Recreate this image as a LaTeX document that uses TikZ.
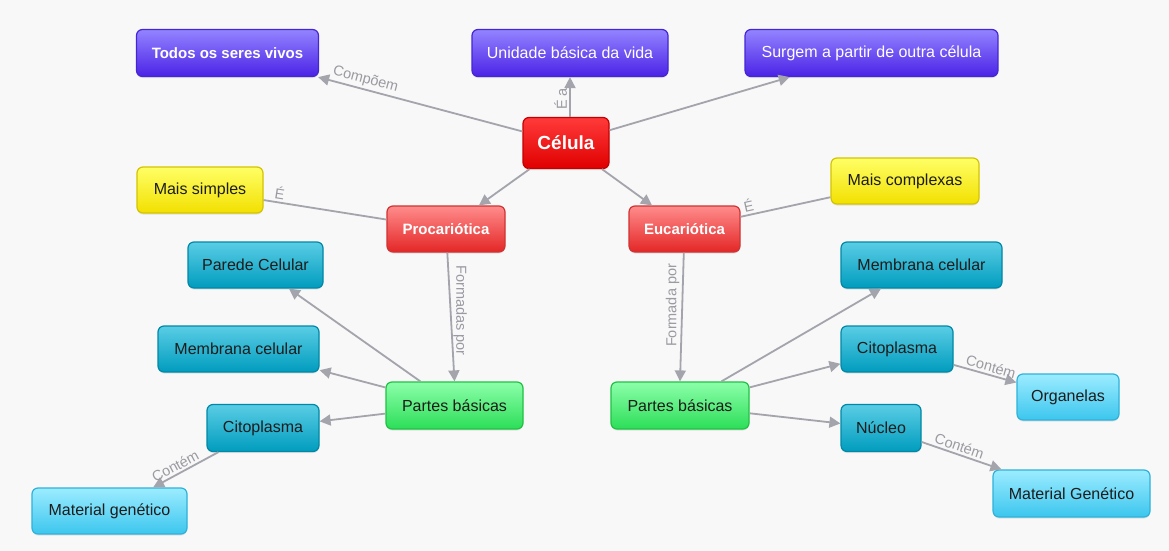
\documentclass[tikz,border=0pt]{standalone}
\usepackage{fontspec}
\setmainfont{Liberation Sans}
\usepackage{xcolor}
\usetikzlibrary{arrows.meta,shadows}

\definecolor{fundo}{HTML}{F8F8F8}
\definecolor{roxoC}{HTML}{9384FF}
\definecolor{roxoE}{HTML}{4B22E6}
\definecolor{roxoB}{HTML}{4526D2}
\definecolor{vermC}{HTML}{FF3A3A}
\definecolor{vermE}{HTML}{E00000}
\definecolor{vermB}{HTML}{C40000}
\definecolor{rosaC}{HTML}{FF8C8C}
\definecolor{rosaE}{HTML}{E42626}
\definecolor{amarC}{HTML}{FFFF66}
\definecolor{amarE}{HTML}{F2E000}
\definecolor{amarB}{HTML}{D4C400}
\definecolor{verdeC}{HTML}{8CFFAA}
\definecolor{verdeE}{HTML}{2CDE58}
\definecolor{verdeB}{HTML}{20C244}
\definecolor{azulC}{HTML}{5ACDE5}
\definecolor{azulE}{HTML}{009CBE}
\definecolor{azulB}{HTML}{0088A6}
\definecolor{cianoC}{HTML}{9CECFF}
\definecolor{cianoE}{HTML}{3CC6EE}
\definecolor{cianoB}{HTML}{2EB2DA}
\definecolor{linha}{HTML}{A3A4AC}
\definecolor{rotuloC}{HTML}{9A9AA2}
\definecolor{texto}{HTML}{1C1C1C}

\begin{document}
\begin{tikzpicture}[x=1pt,y=-1pt,
		conceito/.style={rounded corners=6pt, minimum height=47pt, inner xsep=0pt,
			line width=1.2pt, align=center, text=texto,
			font=\fontsize{16}{18}\selectfont,
			drop shadow={opacity=0.18, shadow xshift=0pt, shadow yshift=-1.5pt}},
		roxo/.style={conceito, top color=roxoC, bottom color=roxoE, draw=roxoB, text=white},
		vermelho/.style={conceito, top color=vermC, bottom color=vermE, draw=vermB, text=white,
			font=\fontsize{19}{21}\selectfont\bfseries},
		rosa/.style={conceito, top color=rosaC, bottom color=rosaE, draw=vermB!80, text=white,
			font=\fontsize{15}{17}\selectfont\bfseries},
		amarelo/.style={conceito, top color=amarC, bottom color=amarE, draw=amarB},
		verde/.style={conceito, top color=verdeC, bottom color=verdeE, draw=verdeB},
		azul/.style={conceito, top color=azulC, bottom color=azulE, draw=azulB},
		ciano/.style={conceito, top color=cianoC, bottom color=cianoE, draw=cianoB},
		liga/.style={draw=linha, line width=1.8pt, -{Triangle[length=11pt,width=11pt]}},
		traco/.style={draw=linha, line width=1.8pt},
		rot/.style={text=rotuloC, font=\fontsize{14.5}{16}\selectfont, inner sep=2pt}
	]
	\useasboundingbox[fill=fundo] (0,0) rectangle (1169,551);

	% conceito central
	\node[vermelho, minimum width=86pt, minimum height=51pt] (celula) at (566,143) {Célula};

	% linha de cima
	\node[roxo, minimum width=182pt, font=\fontsize{15}{17}\selectfont\bfseries] (todos) at (227.5,53) {Todos os seres vivos};
	\node[roxo, minimum width=196pt] (unidade) at (570,53) {Unidade básica da vida};
	\node[roxo, minimum width=253pt] (surgem) at (871.5,53) {Surgem a partir de outra célula};

	% tipos de celula
	\node[rosa, minimum width=118pt, minimum height=46pt] (proc) at (446,229) {Procariótica};
	\node[rosa, minimum width=111pt, minimum height=46pt] (euc) at (684.5,229) {Eucariótica};
	\node[amarelo, minimum width=126pt, minimum height=46pt] (simples) at (200,190) {Mais simples};
	\node[amarelo, minimum width=148pt, minimum height=46pt] (complexas) at (905,181) {Mais complexas};

	% lado procariotico
	\node[verde, minimum width=137pt] (partesP) at (454.5,405.5) {Partes básicas};
	\node[azul, minimum width=135pt, minimum height=46pt] (parede) at (255.5,265) {Parede Celular};
	\node[azul, minimum width=161pt, minimum height=46pt] (membP) at (238.5,349) {Membrana celular};
	\node[azul, minimum width=112pt] (citoP) at (263,428) {Citoplasma};
	\node[ciano, minimum width=155pt, minimum height=46pt] (materialP) at (109.5,511) {Material genético};

	% lado eucariotico
	\node[verde, minimum width=138pt] (partesE) at (680,405.5) {Partes básicas};
	\node[azul, minimum width=161pt, minimum height=46pt] (membE) at (921.5,265) {Membrana celular};
	\node[azul, minimum width=112pt, minimum height=46pt] (citoE) at (897,349) {Citoplasma};
	\node[ciano, minimum width=102pt, minimum height=46pt] (organelas) at (1068,397) {Organelas};
	\node[azul, minimum width=80pt] (nucleo) at (881,428) {Núcleo};
	\node[ciano, minimum width=157pt] (materialE) at (1071.5,493.5) {Material Genético};

	% ligacoes
	\draw[liga] (celula) -- node[rot, sloped, above, pos=.78] {Compõem} (todos);
	\draw[liga] (celula.north -| unidade) -- node[rot, rotate=90, above, pos=.45] {É a} (unidade);
	\draw[liga] (celula) -- (surgem);
	\draw[liga] (celula) -- (proc);
	\draw[liga] (celula) -- (euc);
	\draw[traco] (proc) -- node[rot, sloped, above, pos=.88] {É} (simples);
	\draw[traco] (euc) -- node[rot, sloped, above, pos=.11] {É} (complexas);
	\draw[liga] (proc) -- node[rot, rotate=-90, above, pos=.45] {Formadas por} (partesP.north);
	\draw[liga] (euc) -- node[rot, rotate=90, above, pos=.41] {Formada por} (partesE.north);

	\draw[liga] (partesP) -- (parede);
	\draw[liga] (partesP) -- (membP);
	\draw[liga] (partesP) -- (citoP);
	\draw[liga] (citoP) -- node[rot, sloped, above, pos=.6] {Contém} (materialP);

	\draw[liga] (partesE) -- (membE);
	\draw[liga] (partesE) -- (citoE);
	\draw[liga] (partesE) -- (nucleo);
	\draw[liga] (citoE) -- node[rot, sloped, above, pos=.56] {Contém} (organelas);
	\draw[liga] (nucleo) -- node[rot, sloped, above, pos=.44] {Contém} (materialE);
\end{tikzpicture}
\end{document}
